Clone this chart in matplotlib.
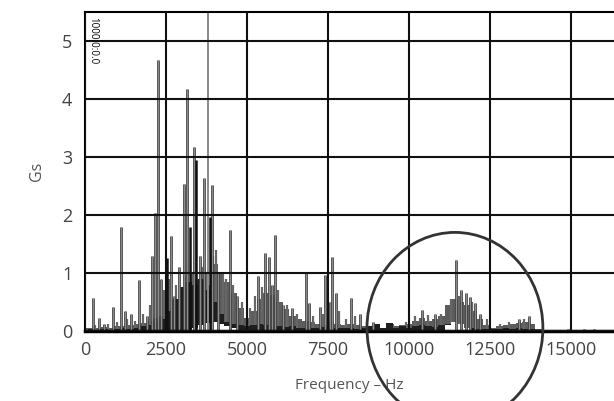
import matplotlib
matplotlib.use("Agg")
import matplotlib.pyplot as plt
from matplotlib.patches import Ellipse

plt.rcParams['font.family'] = ['Open Sans', 'DejaVu Sans']

# broadband floor, every 200 Hz
band_freq = list(range(0, 16600, 200))
band_top = [0.05, 0.06, 0.05, 0.07, 0.06, 0.08, 0.09, 0.10, 0.12, 0.14,
            0.18, 0.22, 0.25, 0.30, 0.35, 0.42, 0.50, 0.55, 0.65, 0.80,
            1.15, 1.00, 0.85, 0.65, 0.40, 0.22, 0.35, 0.55, 0.65, 0.62,
            0.50, 0.38, 0.25, 0.20, 0.18, 0.15, 0.12, 0.10, 0.15, 0.12,
            0.10, 0.12, 0.10, 0.08, 0.07, 0.06, 0.05, 0.06, 0.08, 0.10,
            0.12, 0.18, 0.22, 0.18, 0.20, 0.25, 0.45, 0.55, 0.50, 0.45,
            0.35, 0.20, 0.10, 0.06, 0.08, 0.10, 0.12, 0.14, 0.15, 0.12,
            0.04, 0.02, 0.02, 0.01, 0.02, 0.01, 0.02, 0.01, 0.02, 0.02,
            0.01, 0.01, 0.01]
black_top = [0.02, 0.03, 0.02, 0.03, 0.02, 0.04, 0.05, 0.04, 0.06, 0.08,
             0.10, 0.15, 0.20, 0.35, 0.55, 0.75, 0.85, 0.80, 0.90, 0.70,
             0.50, 0.30, 0.15, 0.12, 0.10, 0.08, 0.10, 0.12, 0.10, 0.09,
             0.08, 0.07, 0.08, 0.06, 0.05, 0.06, 0.05, 0.07, 0.06, 0.05,
             0.06, 0.05, 0.04, 0.06, 0.08, 0.12, 0.06, 0.14, 0.05, 0.08,
             0.06, 0.09, 0.10, 0.08, 0.07, 0.10, 0.12, 0.10, 0.08, 0.06,
             0.05, 0.04, 0.04, 0.03, 0.04, 0.05, 0.04, 0.05, 0.04, 0.03,
             0.02, 0.01, 0.01, 0.01, 0.01, 0.01, 0.01, 0.01, 0.01, 0.01,
             0.01, 0.01, 0.01]
white_top = [0, 0, 0, 0, 0, 0, 0, 0, 0, 0,
             0, 0, 0, 0, 0, 0, 0.02, 0.05, 0.10, 0.14,
             0.16, 0.12, 0.08, 0.05, 0.02, 0, 0, 0, 0, 0,
             0, 0, 0, 0, 0, 0, 0, 0, 0, 0,
             0, 0, 0, 0, 0, 0, 0, 0, 0, 0,
             0, 0, 0, 0, 0, 0, 0.10, 0.16, 0.12, 0.05,
             0, 0, 0, 0, 0, 0, 0, 0, 0, 0,
             0, 0, 0, 0, 0, 0, 0, 0, 0, 0,
             0, 0, 0]

# discrete tones
spike_freq = [257, 420, 600, 864, 1120, 1230, 1420, 1666, 1900, 2068,
              2160, 2263, 2350, 2530, 2654, 2750, 2900, 3045, 3138, 3250,
              3353, 3425, 3560, 3683, 3850, 3909, 4100, 4475, 4700,
              5330, 5555, 5690, 5780, 5864, 6100, 6400, 6810, 6920, 7250,
              7420, 7550, 7633, 7737, 8200, 8500, 8900, 10390, 10800, 11450,
              11620, 11760, 11880, 12030, 12200, 13400, 13700, 14900, 15400, 15700]
spike_height = [0.57, 0.22, 0.12, 0.41, 1.80, 0.35, 0.30, 0.88, 0.25, 1.30,
                2.04, 4.68, 0.90, 1.26, 1.64, 0.60, 1.10, 2.53, 4.17, 1.80,
                3.17, 2.94, 1.30, 2.63, 1.97, 2.52, 1.00, 1.74, 0.60,
                0.94, 1.34, 1.28, 0.80, 1.66, 0.45, 0.40, 1.02, 0.48, 0.42,
                0.97, 0.50, 1.28, 0.65, 0.57, 0.30, 0.15, 0.36, 0.30, 1.22,
                0.71, 0.65, 0.59, 0.48, 0.30, 0.20, 0.25, 0.04, 0.03, 0.03]
spike_dark = [3250, 3425, 3850, 2530]
tall_freq = 3790
tall_height = 5.6

# small tones buried in the floor
minor_freq = [300, 700, 1000, 1300, 1550, 1780, 2000, 2450, 2600, 2820,
              2980, 3100, 3300, 3480, 3620, 3750, 3950, 4050, 4250, 4350,
              4580, 4850, 5100, 5250, 5450, 5950, 6250, 6550, 7050, 7350,
              7850, 8050, 8350, 9500, 9900, 10200, 10600, 11000, 11300, 11550,
              11950, 12400, 12800, 13100, 13550]
minor_height = [0.10, 0.12, 0.15, 0.20, 0.18, 0.30, 0.45, 0.70, 0.90, 0.80,
                0.70, 0.95, 1.00, 0.90, 1.10, 1.00, 1.30, 1.40, 1.00, 0.90,
                0.80, 0.50, 0.40, 0.60, 0.75, 0.70, 0.45, 0.30, 0.25, 0.30,
                0.35, 0.20, 0.25, 0.12, 0.15, 0.25, 0.28, 0.30, 0.55, 0.60,
                0.50, 0.20, 0.12, 0.15, 0.20]

x_ticks = [0, 2500, 5000, 7500, 10000, 12500, 15000]
y_ticks = [0, 1, 2, 3, 4, 5]

fig = plt.figure(figsize=(6.14, 4.01), dpi=100)
ax = fig.add_axes([0.1384, 0.1746, 0.8616, 0.7954])

ax.fill_between(band_freq, band_top, step='mid', color='#5c5c5c', lw=0, zorder=1)
ax.vlines(minor_freq, 0, minor_height, color='#666666', lw=1.6, zorder=1.1)
ax.fill_between(band_freq, black_top, step='mid', color='#1e1e1e', lw=0, zorder=1.2)
ax.fill_between(band_freq, white_top, step='mid', color='white', lw=0, zorder=1.4)

light = [(f, h) for f, h in zip(spike_freq, spike_height) if f not in spike_dark]
dark = [(f, h) for f, h in zip(spike_freq, spike_height) if f in spike_dark]
lf, lh = zip(*light)
ax.vlines(lf, 0, lh, color='#444444', lw=2.0, zorder=2)
ax.vlines(lf, 0, lh, color='#8c8c8c', lw=0.8, zorder=2.1)
df, dh = zip(*dark)
ax.vlines(df, 0, dh, color='#111111', lw=1.8, zorder=2.2)
ax.vlines([tall_freq], 0, [tall_height], color='#8a8a8a', lw=1.4, zorder=2.2)

ax.set_xlim(0, 16330)
ax.set_ylim(0, 5.5)
ax.set_xticks(x_ticks)
ax.set_yticks(y_ticks)
ax.set_xticklabels([str(t) for t in x_ticks])
ax.grid(True, color='#111111', lw=1.5)
ax.set_axisbelow(False)
ax.tick_params(length=0, labelsize=13, labelcolor='#444444', pad=9)
ax.tick_params(axis='x', pad=7)
ax.spines['right'].set_visible(False)
ax.spines['top'].set_linewidth(1.5)
ax.spines['left'].set_linewidth(1.5)
ax.spines['bottom'].set_linewidth(2.5)

ax.set_ylabel('Gs', fontsize=11.5, color='#555555', labelpad=12)
ax.set_xlabel('Frequency \u2013 Hz', fontsize=11, color='#555555', labelpad=14)

ax.text(60, 5.42, '1000.0:0.0', rotation=-90, fontsize=7, va='top', ha='left')

circ = Ellipse((11420, 0.05), 5430, 3.3, fill=False, ec='#333333', lw=2, clip_on=False, zorder=4)
ax.add_patch(circ)

fig.savefig('out.png', dpi=100)
